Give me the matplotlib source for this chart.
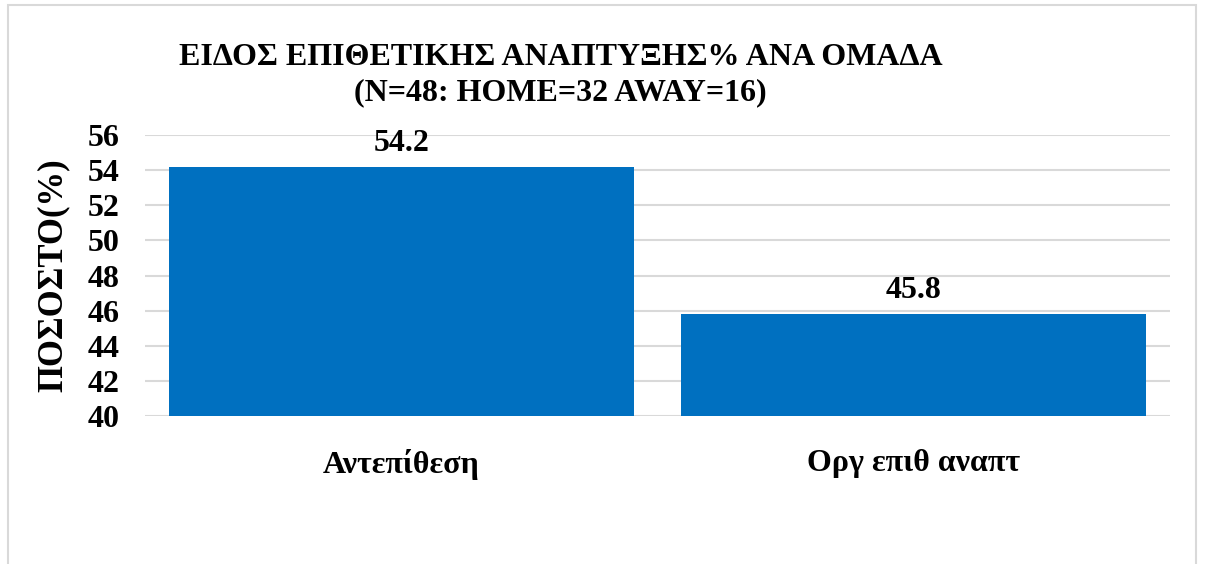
import matplotlib.pyplot as plt
from matplotlib.patches import Rectangle

categories = ['Αντεπίθεση', 'Οργ επιθ αναπτ']
values = [54.2, 45.8]
yticks = [40, 42, 44, 46, 48, 50, 52, 54, 56]

plt.rcParams['font.family'] = ['Liberation Serif', 'DejaVu Serif']
plt.rcParams['font.weight'] = 'bold'

fig = plt.figure(figsize=(12.05, 5.64), dpi=100)
ax = fig.add_axes([0.1203, 0.2624, 0.8507, 0.4982])

x = range(len(categories))
ax.bar(x, values, width=0.907, color='#0070C0', zorder=3)
for xi, v in zip(x, values):
    ax.text(xi, v + 0.5, f'{v:.1f}', ha='center', va='bottom',
            fontsize=23, fontweight='bold')

ax.set_xlim(-0.5, 1.5)
ax.set_ylim(40, 56)
ax.set_yticks(yticks)
ax.set_xticks(list(x))
ax.set_xticklabels(categories, fontsize=23, fontweight='bold')
ax.tick_params(axis='both', length=0, labelsize=23)
ax.tick_params(axis='x', pad=24)
ax.tick_params(axis='y', pad=18)
ax.yaxis.grid(True, color='#D9D9D9', linewidth=1.5, zorder=0)
for s in ax.spines.values():
    s.set_visible(False)
ax.set_ylabel('ΠΟΣΟΣΤΟ(%)', fontsize=25, fontweight='bold', labelpad=13)

fig.text(0.465, 0.866, 'ΕΙΔΟΣ ΕΠΙΘΕΤΙΚΗΣ ΑΝΑΠΤΥΞΗΣ% ΑΝΑ ΟΜΑΔΑ\n(N=48: HOME=32 AWAY=16)',
         ha='center', va='center', fontsize=23, fontweight='bold', linespacing=1.28)

fig.patches.append(Rectangle((8 / 1205, -0.1), 1188 / 1205, 1.1 - 5 / 564,
                             transform=fig.transFigure, fill=False,
                             edgecolor='#D9D9D9', linewidth=1.5))

fig.savefig('out.png', dpi=100)
